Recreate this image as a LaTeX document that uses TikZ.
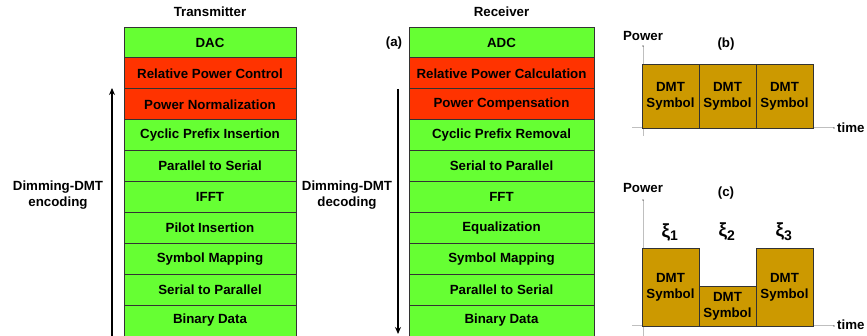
\documentclass[tikz,border=0pt]{standalone}
\usepackage{fontspec}
\setmainfont{Liberation Sans}
\usetikzlibrary{arrows.meta}
\definecolor{boxgreen}{HTML}{66FF33}
\definecolor{boxred}{HTML}{FF3300}
\definecolor{symgold}{HTML}{CC9900}
\tikzset{
  txt/.style={font=\fontsize{13.3}{16}\selectfont\bfseries, inner sep=0pt, align=center},
  stage/.style={txt, draw=black!80, line width=0.8pt, minimum height=30.9pt},
  tstage/.style={stage, minimum width=172pt},
  rstage/.style={stage, minimum width=185pt},
  gstage/.style={fill=boxgreen},
  rdstage/.style={fill=boxred},
  sym/.style={txt, draw=black!80, line width=0.8pt, fill=symgold, minimum width=57pt},
  axis/.style={draw=black!25, line width=1pt},
  flow/.style={line width=2pt, -{Stealth[length=7pt,width=6pt]}},
  xilab/.style={txt, font=\fontsize{19}{20}\selectfont\bfseries},
}
\begin{document}
\begin{tikzpicture}[x=1pt,y=-1pt]
\useasboundingbox (0,0) rectangle (867,336);
% Transmitter
\node[txt] (ttitle) at (210,12) {Transmitter};
\foreach \t [count=\i from 0] in {DAC,Relative Power Control,Power Normalization,Cyclic Prefix Insertion,Parallel to Serial,IFFT,Pilot Insertion,Symbol Mapping,Serial to Parallel,Binary Data}{
  \ifnum\i=1 \def\fl{rdstage}\else\ifnum\i=2 \def\fl{rdstage}\else\def\fl{gstage}\fi\fi
  \node[tstage,\fl] (t\i) at (210,{27+30.9*(\i+0.5)}) {\t};
}
% Receiver
\node[txt] (rtitle) at (501.5,12) {Receiver};
\foreach \t [count=\i from 0] in {ADC,Relative Power Calculation,Power Compensation,Cyclic Prefix Removal,Serial to Parallel,FFT,Equalization,Symbol Mapping,Parallel to Serial,Binary Data}{
  \ifnum\i=1 \def\fl{rdstage}\else\ifnum\i=2 \def\fl{rdstage}\else\def\fl{gstage}\fi\fi
  \node[rstage,\fl] (r\i) at (501.5,{27+30.9*(\i+0.5)}) {\t};
}
\node[txt] (alabel) at (394,43) {(a)};
% encoding arrow
\coordinate (encS) at (112,336);
\coordinate (encE) at (112,88);
\draw[flow] (encS) -- (encE);
\node[txt] (enc) at (58,195) {Dimming-DMT\\encoding};
% decoding arrow
\coordinate (decS) at (398,89);
\coordinate (decE) at (398,334);
\draw[flow] (decS) -- (decE);
\node[txt] (dec) at (347,195) {Dimming-DMT\\decoding};

% Panel (b)
\coordinate (byT) at (643,46);
\coordinate (byB) at (643,136);
\coordinate (bxL) at (632,128);
\coordinate (bxR) at (834,128);
\draw[axis] (byB) -- (byT);
\draw[axis] (bxL) -- (bxR);
\fill[black] (byT) circle (0.7pt);
\fill[black] (bxR) circle (0.7pt);
\node[txt] (bpow) at (643,36) {Power};
\node[txt] (blab) at (726,44) {(b)};
\node[txt,anchor=west] (btime) at (837,128) {time};
\node[sym, minimum height=64pt] (b1) at (670.5,96) {DMT\\Symbol};
\node[sym, minimum height=64pt] (b2) at (727.5,96) {DMT\\Symbol};
\node[sym, minimum height=64pt] (b3) at (784.5,96) {DMT\\Symbol};

% Panel (c)
\coordinate (cyT) at (643,200);
\coordinate (cyB) at (643,336);
\coordinate (cxL) at (632,326);
\coordinate (cxR) at (834,326);
\draw[axis] (cyB) -- (cyT);
\draw[axis] (cxL) -- (cxR);
\fill[black] (cyT) circle (0.7pt);
\fill[black] (cxR) circle (0.7pt);
\node[txt] (cpow) at (643,188) {Power};
\node[txt] (clab) at (726,193) {(c)};
\node[txt,anchor=west] (ctime) at (837,325) {time};
\node[sym, minimum height=78pt] (c1) at (670.5,287) {DMT\\Symbol};
\node[sym, minimum height=40pt] (c2) at (727.5,306) {DMT\\Symbol};
\node[sym, minimum height=78pt] (c3) at (784.5,287) {DMT\\Symbol};
\node[xilab] (x1) at (670,232) {ξ\textsubscript{\fontsize{14}{14}\selectfont 1}};
\node[xilab] (x2) at (727,232) {ξ\textsubscript{\fontsize{14}{14}\selectfont 2}};
\node[xilab] (x3) at (784,232) {ξ\textsubscript{\fontsize{14}{14}\selectfont 3}};
\end{tikzpicture}
\end{document}
